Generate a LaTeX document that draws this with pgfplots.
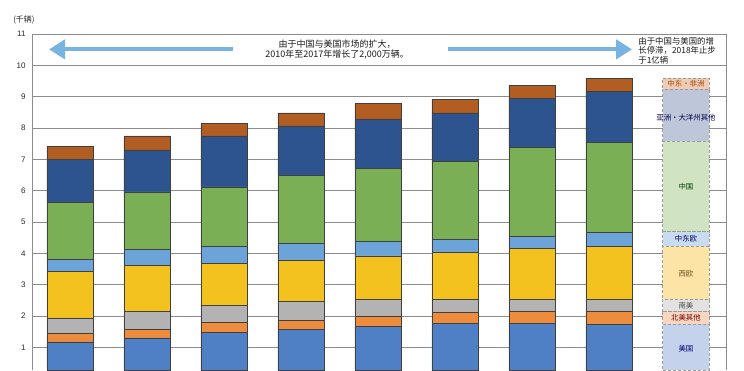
\documentclass[border=0pt]{standalone}
\usepackage{pgfplots}
\pgfplotsset{compat=1.18}
\usepackage{fontspec}
\setmainfont{Liberation Sans}
\newfontfamily\cjk{Noto Sans CJK SC}
\usetikzlibrary{arrows.meta}
\definecolor{cUS}{HTML}{4F7FC5}
\definecolor{cNA}{HTML}{EE8C3E}
\definecolor{cSA}{HTML}{B3B3B3}
\definecolor{cWE}{HTML}{F4C21E}
\definecolor{cCE}{HTML}{6CA4DA}
\definecolor{cCN}{HTML}{7BAF55}
\definecolor{cAS}{HTML}{2E5490}
\definecolor{cME}{HTML}{B25D22}
\definecolor{pUS}{HTML}{C4D2EB}
\definecolor{pNA}{HTML}{F8D6C0}
\definecolor{pSA}{HTML}{E2E2E2}
\definecolor{pWE}{HTML}{FBE4A6}
\definecolor{pCE}{HTML}{C9DCEF}
\definecolor{pCN}{HTML}{D0E3C2}
\definecolor{pAS}{HTML}{BDC7D9}
\definecolor{pME}{HTML}{F1CBB3}
\definecolor{arr}{HTML}{78B4E2}
\definecolor{gridc}{HTML}{8C8C8C}
\definecolor{dashc}{HTML}{9A9A9A}
\begin{document}
\begin{tikzpicture}
\useasboundingbox (0pt,0pt) rectangle (744pt,370pt);
\pgfplotsset{commonax/.style={
  at={(32pt,0pt)}, anchor=south west,
  width=694pt, height=336pt, scale only axis,
  xmin=-0.494, xmax=8.52, ymin=0.275, ymax=11,
  ybar stacked, bar width=0.6,
  xtick=\empty, ytick={1,2,...,11},
}}
\tikzset{lab/.style={font=\cjk\fontsize{7.4}{7.4}\selectfont, inner sep=0pt},
  leg/.style={draw=dashc, line width=0.8pt, dash pattern=on 3pt off 2pt}}
\begin{axis}[commonax,
  ymajorgrids, major grid style={draw=gridc, line width=0.8pt},
  tick style={draw=none},
  separate axis lines,
  x axis line style={draw=none},
  y axis line style={draw=gridc, line width=0.8pt},
  /pgf/number format/assume math mode=true,
  yticklabel style={font=\fontsize{8}{8}\selectfont, text=black!85, xshift=-3pt},
]
\addplot[fill=cUS, draw=black!75, line width=0.5pt] coordinates {(0,1.17) (1,1.30) (2,1.47) (3,1.58) (4,1.66) (5,1.77) (6,1.77) (7,1.73)};
\addplot[fill=cNA, draw=black!75, line width=0.5pt] coordinates {(0,0.28) (1,0.28) (2,0.32) (3,0.29) (4,0.34) (5,0.34) (6,0.37) (7,0.41)};
\addplot[fill=cSA, draw=black!75, line width=0.5pt] coordinates {(0,0.49) (1,0.56) (2,0.55) (3,0.60) (4,0.53) (5,0.42) (6,0.40) (7,0.40)};
\addplot[fill=cWE, draw=black!75, line width=0.5pt] coordinates {(0,1.48) (1,1.48) (2,1.34) (3,1.31) (4,1.39) (5,1.51) (6,1.61) (7,1.67)};
\addplot[fill=cCE, draw=black!75, line width=0.5pt] coordinates {(0,0.39) (1,0.50) (2,0.55) (3,0.54) (4,0.47) (5,0.41) (6,0.40) (7,0.45)};
\addplot[fill=cCN, draw=black!75, line width=0.5pt] coordinates {(0,1.82) (1,1.84) (2,1.89) (3,2.16) (4,2.33) (5,2.48) (6,2.82) (7,2.88)};
\addplot[fill=cAS, draw=black!75, line width=0.5pt] coordinates {(0,1.37) (1,1.34) (2,1.63) (3,1.59) (4,1.57) (5,1.55) (6,1.57) (7,1.63)};
\addplot[fill=cME, draw=black!75, line width=0.5pt] coordinates {(0,0.41) (1,0.45) (2,0.40) (3,0.41) (4,0.49) (5,0.44) (6,0.41) (7,0.41)};
\end{axis}
\begin{axis}[commonax, hide axis]
\addplot[fill=pUS, leg] coordinates {(8,1.74)};
\addplot[fill=pNA, leg] coordinates {(8,0.39)};
\addplot[fill=pSA, leg] coordinates {(8,0.40)};
\addplot[fill=pWE, leg] coordinates {(8,1.70)};
\addplot[fill=pCE, leg] coordinates {(8,0.46)};
\addplot[fill=pCN, leg] coordinates {(8,2.88)};
\addplot[fill=pAS, leg] coordinates {(8,1.67)};
\addplot[fill=pME, leg] coordinates {(8,0.35)};
\end{axis}
\begin{axis}[at={(32pt,0pt)}, anchor=south west,
  width=694pt, height=336pt, scale only axis,
  xmin=-0.494, xmax=8.52, ymin=0.275, ymax=11, hide axis, clip=false]
\draw[arr, line width=4pt, -{Triangle[width=19pt,length=16pt]}] (axis cs:2.117,10.51) -- (axis cs:-0.273,10.51);
\draw[arr, line width=4pt, -{Triangle[width=19pt,length=16pt]}] (axis cs:4.91,10.51) -- (axis cs:7.30,10.51);
\node[align=center, font=\cjk\fontsize{9}{10.5}\selectfont, text=black!90] at (axis cs:3.47,10.50) {由于中国与美国市场的扩大，\\2010年至2017年增长了2,000万辆。};
\node[align=left, anchor=west, inner sep=0pt, font=\cjk\fontsize{8.4}{9.8}\selectfont, text=black!90] at (axis cs:7.38,10.47) {由于中国与美国的增\\长停滞，2018年止步\\于1亿辆};
\node[lab, text=blue!45!black] at (axis cs:8,0.95) {美国};
\node[lab, text=red!45!black] at (axis cs:8,1.93) {北美其他};
\node[lab, text=black!70] at (axis cs:8,2.34) {南美};
\node[lab, text=brown!60!black] at (axis cs:8,3.36) {西欧};
\node[lab, text=blue!40!black] at (axis cs:8,4.46) {中东欧};
\node[lab, text=green!25!black] at (axis cs:8,6.13) {中国};
\node[lab, text=blue!30!black] at (axis cs:8,8.32) {亚洲・大洋州其他};
\node[lab, text=orange!60!black] at (axis cs:8,9.42) {中东・非洲};
\end{axis}
\node[font=\cjk\fontsize{8}{8}\selectfont, text=black!85] at (24pt,350pt) {(千辆)};
\end{tikzpicture}
\end{document}
